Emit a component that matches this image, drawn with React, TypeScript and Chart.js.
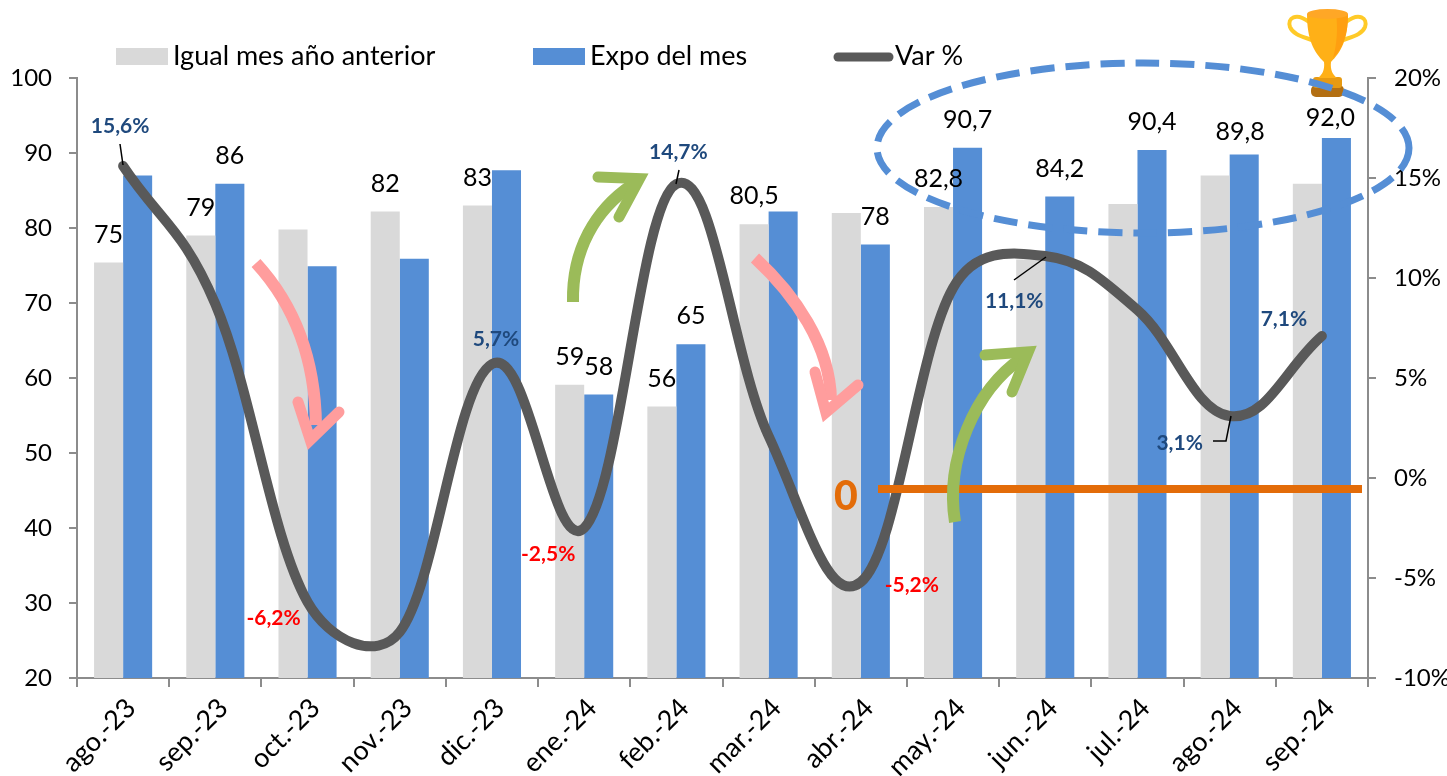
import React, { useEffect, useRef } from "react";
import { Chart, registerables } from "chart.js";

Chart.register(...registerables);

const categories = ["ago.-23", "sep.-23", "oct.-23", "nov.-23", "dic.-23", "ene.-24", "feb.-24", "mar.-24", "abr.-24", "may.-24", "jun.-24", "jul.-24", "ago.-24", "sep.-24"];
const previousYear = [75.4, 79.0, 79.8, 82.2, 83.0, 59.1, 56.2, 80.5, 82.0, 82.8, 75.8, 83.2, 87.0, 85.9];
const currentMonth = [87.0, 85.9, 74.9, 75.9, 87.7, 57.8, 64.5, 82.2, 77.8, 90.7, 84.2, 90.4, 89.8, 92.0];
const variation = [15.6, 8.7, -6.2, -7.7, 5.7, -2.5, 14.7, 2.1, -5.2, 9.5, 11.1, 8.4, 3.1, 7.1];

const previousLabels = ["75", "79", null, "82", "83", "59", "56", "80,5", null, "82,8", null, null, null, null];
const currentLabels = [null, "86", null, null, null, "58", "65", null, "78", "90,7", "84,2", "90,4", "89,8", "92,0"];
const variationLabels = ["15,6%", null, "-6,2%", null, "5,7%", "-2,5%", "14,7%", null, "-5,2%", null, "11,1%", null, "3,1%", "7,1%"];

const seriesNames = ["Igual mes año anterior", "Expo del mes", "Var %"];
const zeroMarker = "0";

const GRAY = "#D9D9D9";
const BLUE = "#558ED5";
const LINE = "#595959";
const AXIS = "#8C8C8C";
const NAVY = "#1F497D";
const RED = "#FF0000";
const PINK = "#FF9D9D";
const GREEN = "#9BBB59";
const ORANGE = "#E36C09";
const FONT = "Lato";

// Where each Var % label sits relative to its point (px)
const varLabelOffset: Record<number, [number, number]> = {
  0: [-3, -40], 2: [-34, 16], 4: [4, -25], 5: [-36, 26], 6: [2, -32],
  8: [51, 3], 10: [-31, 45], 12: [-50, 27], 13: [-38, -17],
};
// Hand-moved bar labels, relative to their default place (px)
const currentLabelNudge: Record<number, [number, number]> = { 12: [-4, 5], 13: [-6, 8] };

type Pt = [number, number];

function drawArrow(ctx: CanvasRenderingContext2D, color: string, p0: Pt, c1: Pt, c2: Pt, p1: Pt, tip: Pt, barbA: Pt, barbB: Pt) {
  ctx.save();
  ctx.strokeStyle = color;
  ctx.lineWidth = 12;
  ctx.lineCap = "butt";
  ctx.beginPath();
  ctx.moveTo(...p0);
  ctx.bezierCurveTo(...c1, ...c2, ...p1);
  ctx.stroke();

  // open arrow head whose mitre ends exactly on the tip
  const w = 11;
  const ax = barbA[0] - tip[0];
  const ay = barbA[1] - tip[1];
  const bx = barbB[0] - tip[0];
  const by = barbB[1] - tip[1];
  const la = Math.hypot(ax, ay);
  const lb = Math.hypot(bx, by);
  const half = Math.acos((ax * bx + ay * by) / (la * lb)) / 2;
  let mx = ax / la + bx / lb;
  let my = ay / la + by / lb;
  const lm = Math.hypot(mx, my);
  mx /= lm;
  my /= lm;
  const back = w / 2 / Math.sin(half);
  ctx.lineWidth = w;
  ctx.lineCap = "round";
  ctx.lineJoin = "miter";
  ctx.miterLimit = 20;
  ctx.beginPath();
  ctx.moveTo(...barbA);
  ctx.lineTo(tip[0] + mx * back, tip[1] + my * back);
  ctx.lineTo(...barbB);
  ctx.stroke();
  ctx.restore();
}

function drawTrophy(ctx: CanvasRenderingContext2D) {
  ctx.save();
  ctx.lineWidth = 4;
  ctx.strokeStyle = "#FFCA28";
  ctx.beginPath();
  ctx.moveTo(1309, 22);
  ctx.bezierCurveTo(1296, 12, 1287, 18, 1290, 27);
  ctx.bezierCurveTo(1293, 35, 1305, 37, 1314, 41);
  ctx.stroke();
  ctx.beginPath();
  ctx.moveTo(1346, 22);
  ctx.bezierCurveTo(1359, 12, 1368, 18, 1365, 27);
  ctx.bezierCurveTo(1362, 35, 1350, 37, 1341, 41);
  ctx.stroke();

  ctx.fillStyle = "#B36F12";
  ctx.beginPath();
  ctx.roundRect(1311, 85, 33, 12, 5);
  ctx.fill();
  ctx.fillStyle = "#E79A12";
  ctx.beginPath();
  ctx.roundRect(1313, 77, 29, 11, 3);
  ctx.fill();

  ctx.fillStyle = "#FFB017";
  ctx.beginPath();
  ctx.moveTo(1307, 14);
  ctx.lineTo(1348, 14);
  ctx.bezierCurveTo(1348, 40, 1341, 52, 1331, 62);
  ctx.bezierCurveTo(1330, 70, 1333, 75, 1337, 78);
  ctx.lineTo(1318, 78);
  ctx.bezierCurveTo(1322, 75, 1325, 70, 1324, 62);
  ctx.bezierCurveTo(1314, 52, 1307, 40, 1307, 14);
  ctx.fill();

  ctx.fillStyle = "#FF9F10";
  ctx.beginPath();
  ctx.moveTo(1336, 14);
  ctx.lineTo(1348, 14);
  ctx.bezierCurveTo(1348, 34, 1343, 48, 1333, 58);
  ctx.bezierCurveTo(1337, 44, 1338, 28, 1336, 14);
  ctx.fill();

  ctx.fillStyle = "#FFA726";
  ctx.beginPath();
  ctx.ellipse(1327.5, 14, 20.5, 5, 0, 0, Math.PI * 2);
  ctx.fill();
  ctx.restore();
}

// Chart.js handles can overlap on steep segments and make an S-kink; limit their horizontal reach.
const HANDLE_LIMIT = 0.4;
const smoothingPlugin = {
  id: "smoothing",
  beforeDatasetDraw(chart: any, args: any) {
    const meta = args.meta;
    if (meta.type !== "line") return;
    meta.dataset.updateControlPoints(chart.chartArea);
    const pts = meta.data;
    const step = pts.length > 1 ? pts[1].x - pts[0].x : 0;
    const limit = step * HANDLE_LIMIT;
    pts.forEach((p: any) => {
      for (const [kx, ky] of [["cp1x", "cp1y"], ["cp2x", "cp2y"]]) {
        const dx = p[kx] - p.x;
        if (Math.abs(dx) > limit) {
          const s = limit / Math.abs(dx);
          p[kx] = p.x + dx * s;
          p[ky] = p.y + (p[ky] - p.y) * s;
        }
      }
    });
  },
};

const overlayPlugin = {
  id: "overlay",
  afterDatasetsDraw(chart: any) {
    const { ctx } = chart;
    const y0 = chart.scales.y1;
    const x0 = chart.scales.x;

    // legend
    ctx.save();
    ctx.fillStyle = GRAY;
    ctx.fillRect(116, 48, 52, 17);
    ctx.fillStyle = BLUE;
    ctx.fillRect(533, 48, 52, 17);
    ctx.strokeStyle = LINE;
    ctx.lineWidth = 9;
    ctx.lineCap = "round";
    ctx.beginPath();
    ctx.moveTo(838, 57);
    ctx.lineTo(889, 57);
    ctx.stroke();
    ctx.fillStyle = "#000";
    ctx.font = `27px ${FONT}`;
    ctx.textAlign = "left";
    ctx.textBaseline = "middle";
    ctx.fillText(seriesNames[0], 173, 56);
    ctx.fillText(seriesNames[1], 590, 56);
    ctx.fillText(seriesNames[2], 895, 56);

    // bar value labels (dataset 0 is the line)
    ctx.font = `25px ${FONT}`;
    ctx.textAlign = "center";
    const grayBars = chart.getDatasetMeta(1).data;
    const blueBars = chart.getDatasetMeta(2).data;
    previousLabels.forEach((t, i) => {
      if (t) ctx.fillText(t, grayBars[i].x, grayBars[i].y - 28);
    });
    currentLabels.forEach((t, i) => {
      if (!t) return;
      const [dx, dy] = currentLabelNudge[i] || [0, 0];
      ctx.fillText(t, blueBars[i].x + dx, blueBars[i].y - 28 + dy);
    });

    // leader lines
    ctx.strokeStyle = "#000";
    ctx.lineWidth = 1.5;
    ctx.lineCap = "butt";
    const leader = (pts: Pt[]) => {
      ctx.beginPath();
      pts.forEach((p, i) => (i ? ctx.lineTo(p[0], p[1]) : ctx.moveTo(p[0], p[1])));
      ctx.stroke();
    };
    leader([[120, 144], [123, 165]]);
    leader([[679, 170], [676, 184]]);
    leader([[1014, 280], [1046, 257]]);
    leader([[1213, 441], [1226, 441], [1231, 416]]);

    // Var % labels
    ctx.font = `bold 21px ${FONT}`;
    variationLabels.forEach((t, i) => {
      if (!t) return;
      const [dx, dy] = varLabelOffset[i];
      ctx.fillStyle = variation[i] < 0 ? RED : NAVY;
      ctx.fillText(t, x0.getPixelForValue(i) + dx, y0.getPixelForValue(variation[i]) + dy);
    });

    // orange zero marker
    ctx.strokeStyle = ORANGE;
    ctx.lineWidth = 8;
    ctx.beginPath();
    ctx.moveTo(878, 489);
    ctx.lineTo(1362, 489);
    ctx.stroke();
    ctx.fillStyle = ORANGE;
    ctx.font = `900 41px ${FONT}`;
    ctx.fillText(zeroMarker, 846, 497);

    // arrows
    drawArrow(ctx, PINK, [256, 263], [290, 300], [315, 350], [316, 425], [307, 453], [298, 402], [339, 412]);
    drawArrow(ctx, GREEN, [573, 302], [572, 250], [595, 210], [632, 185], [651, 172], [598, 177], [619, 217]);
    drawArrow(ctx, PINK, [755, 258], [795, 295], [830, 345], [831, 400], [822, 425], [815, 372], [858, 385]);
    drawArrow(ctx, GREEN, [955, 522], [945, 460], [975, 390], [1022, 358], [1039, 344], [985, 355], [1012, 392]);

    // trophy, then the dashed ellipse over it
    drawTrophy(ctx);
    ctx.strokeStyle = BLUE;
    ctx.lineWidth = 7;
    ctx.setLineDash([24, 11]);
    ctx.beginPath();
    ctx.ellipse(1143, 148, 266, 85, 0, 0, Math.PI * 2);
    ctx.stroke();
    ctx.setLineDash([]);
    ctx.restore();
  },
};

export default function App() {
  const ref = useRef<HTMLCanvasElement | null>(null);
  useEffect(() => {
    if (!ref.current) return;
    Chart.defaults.font.family = FONT;
    const tickFont = { family: FONT, size: 24 };
    const chart = new Chart(ref.current, {
      type: "bar",
      plugins: [smoothingPlugin, overlayPlugin],
      data: {
        labels: categories,
        datasets: [
          { type: "line", label: seriesNames[2], data: variation, yAxisID: "y1", order: 0, borderColor: LINE, backgroundColor: LINE, borderWidth: 10, borderCapStyle: "round", borderJoinStyle: "round", tension: 0.5, pointRadius: 0, clip: false },
          { type: "bar", label: seriesNames[0], data: previousYear, yAxisID: "y", order: 1, backgroundColor: GRAY, categoryPercentage: 0.63, barPercentage: 1 },
          { type: "bar", label: seriesNames[1], data: currentMonth, yAxisID: "y", order: 2, backgroundColor: BLUE, categoryPercentage: 0.63, barPercentage: 1 },
        ] as any,
      },
      options: {
        responsive: false,
        animation: false,
        devicePixelRatio: 1,
        layout: { padding: { left: 0, right: 0, top: 78, bottom: 0 } },
        plugins: { legend: { display: false }, tooltip: { enabled: false } },
        scales: {
          x: {
            afterFit: (s: any) => { s.height = 98; },
            grid: { drawOnChartArea: false, drawTicks: true, tickLength: 9, color: AXIS, lineWidth: 2 },
            border: { display: true, color: AXIS, width: 2 },
            ticks: { font: { family: FONT, size: 27 }, color: "#000", minRotation: 45, maxRotation: 45, padding: 5, labelOffset: 8, autoSkip: false },
          },
          y: {
            position: "left", min: 20, max: 100,
            afterFit: (s: any) => { s.width = 77; },
            grid: { drawOnChartArea: false, drawTicks: true, tickLength: 8, color: AXIS, lineWidth: 2 },
            border: { display: true, color: AXIS, width: 2 },
            ticks: { font: tickFont, color: "#000", stepSize: 10, padding: 17 },
          },
          y1: {
            position: "right", min: -10, max: 20,
            afterFit: (s: any) => { s.width = 79; },
            grid: { drawOnChartArea: false, drawTicks: true, tickLength: 8, color: AXIS, lineWidth: 2 },
            border: { display: true, color: AXIS, width: 2 },
            ticks: { font: tickFont, color: "#000", stepSize: 5, padding: 18, callback: (v: any) => `${v}%` },
          },
        },
      } as any,
    });
    return () => chart.destroy();
  }, []);
  return (
    <div style={{ position: "absolute", left: 0, top: 0, width: 1447, height: 776, background: "#fff", overflow: "hidden" }}>
      <canvas ref={ref} width={1447} height={776} style={{ display: "block" }} />
    </div>
  );
}
